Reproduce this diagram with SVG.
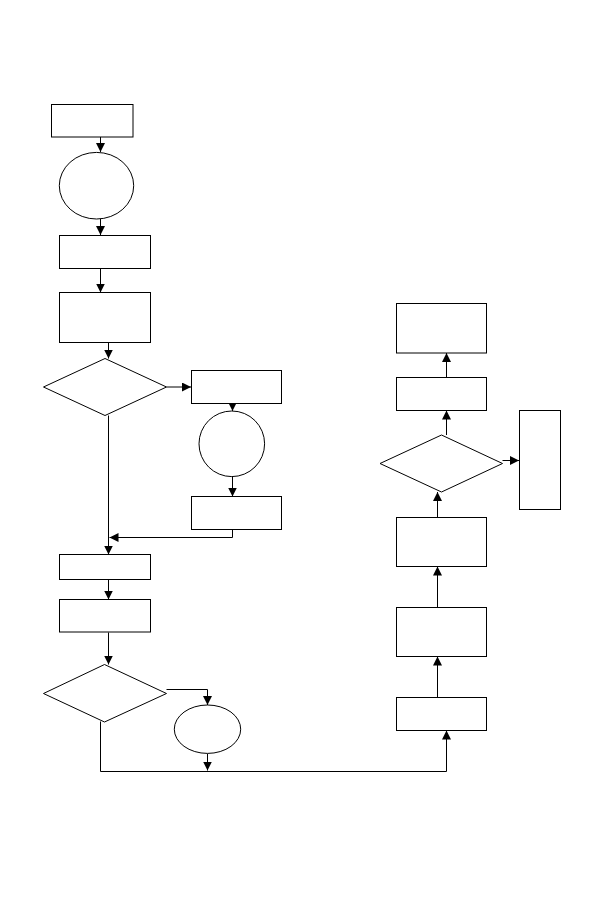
<svg xmlns="http://www.w3.org/2000/svg" width="604" height="910" viewBox="0 0 604 910">
<defs>
<style>
.n{fill:#fff;stroke:#000;stroke-width:1}
.c{fill:none;stroke:#000;stroke-width:1}
</style>
<marker id="a" markerUnits="userSpaceOnUse" markerWidth="10" markerHeight="10" refX="9" refY="4.5" orient="auto">
<path d="M0,0 L9,4.5 L0,9 z" fill="#000"/>
</marker>
</defs>
<rect width="604" height="910" fill="#fff"/>
<g id="connectors">
<path class="c" d="M100.5,137 V152" marker-end="url(#a)"/>
<path class="c" d="M100.5,219 V235" marker-end="url(#a)"/>
<path class="c" d="M100.5,268.5 V292.5" marker-end="url(#a)"/>
<path class="c" d="M108.5,342.5 V358.5" marker-end="url(#a)"/>
<path class="c" d="M166.5,387 H191" marker-end="url(#a)"/>
<path class="c" d="M232.5,403.5 V411" marker-end="url(#a)"/>
<path class="c" d="M232.5,476.5 V496.5" marker-end="url(#a)"/>
<path class="c" d="M232.5,529.5 V537.5 H109.5" marker-end="url(#a)"/>
<path class="c" d="M108.5,415.5 V554.5" marker-end="url(#a)"/>
<path class="c" d="M108.5,579.5 V599.5" marker-end="url(#a)"/>
<path class="c" d="M108.5,632.5 V664.5" marker-end="url(#a)"/>
<path class="c" d="M166.5,689.5 H207.5 V705" marker-end="url(#a)"/>
<path class="c" d="M207.5,753.5 V770.5" marker-end="url(#a)"/>
<path class="c" d="M100.5,721.5 V771.5 H446.5 V730.5" marker-end="url(#a)"/>
<path class="c" d="M437.5,697.5 V656.5" marker-end="url(#a)"/>
<path class="c" d="M437.5,607.5 V566.5" marker-end="url(#a)"/>
<path class="c" d="M437.5,517.5 V492" marker-end="url(#a)"/>
<path class="c" d="M502.5,460.5 H519" marker-end="url(#a)"/>
<path class="c" d="M446.5,435 V410.5" marker-end="url(#a)"/>
<path class="c" d="M446.5,377.5 V353" marker-end="url(#a)"/>
</g>
<g id="n1"><rect class="n" x="51.5" y="104.5" width="81.5" height="32.5"/></g>
<g id="n2"><ellipse class="n" cx="96.5" cy="185.7" rx="37.2" ry="33.3"/></g>
<g id="n3"><rect class="n" x="59.5" y="235.5" width="91" height="33"/></g>
<g id="n4"><rect class="n" x="59.5" y="292.5" width="91" height="50"/></g>
<g id="n5"><polygon class="n" points="105,358.5 166.5,387 105,415.5 43.5,387"/></g>
<g id="n6"><rect class="n" x="191.5" y="370.5" width="90" height="33"/></g>
<g id="n7"><ellipse class="n" cx="231.8" cy="443.8" rx="32.8" ry="32.8"/></g>
<g id="n8"><rect class="n" x="191.5" y="496.5" width="90" height="33"/></g>
<g id="n9"><rect class="n" x="59.5" y="554.5" width="91" height="25"/></g>
<g id="n10"><rect class="n" x="59.5" y="599.5" width="91" height="32.5"/></g>
<g id="n11"><polygon class="n" points="104.5,664.5 166.5,693.5 104.5,722 43.5,693.5"/></g>
<g id="n12"><ellipse class="n" cx="207.5" cy="729.2" rx="33.2" ry="24.2"/></g>
<g id="n13"><rect class="n" x="396.5" y="697.5" width="90" height="33"/></g>
<g id="n14"><rect class="n" x="396.5" y="607.5" width="90" height="49"/></g>
<g id="n15"><rect class="n" x="396.5" y="517.5" width="90" height="49"/></g>
<g id="n16"><polygon class="n" points="441.5,435 502.5,463.5 441.5,492 380,463.5"/></g>
<g id="n17"><rect class="n" x="519.5" y="410.5" width="41" height="99"/></g>
<g id="n18"><rect class="n" x="396.5" y="377.5" width="90" height="33"/></g>
<g id="n19"><rect class="n" x="396.5" y="303.5" width="90" height="49.5"/></g>
</svg>
